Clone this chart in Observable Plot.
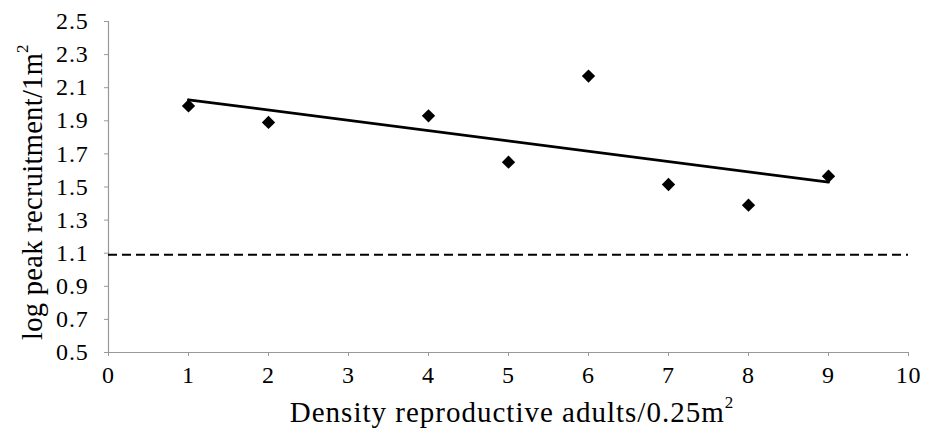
<!DOCTYPE html>
<html><head><meta charset="utf-8">
<script src="https://cdn.jsdelivr.net/npm/d3@7"></script>
<script src="https://cdn.jsdelivr.net/npm/@observablehq/plot@0.6"></script>
<style>
body{margin:0;background:#fff}
#chart{width:925px;height:441px}
</style>
</head><body><div id="chart"></div>
<script>
// Data
const density = [1, 2, 4, 5, 6, 7, 8, 9];
const logRecruit = [1.99, 1.89, 1.93, 1.65, 2.17, 1.515, 1.39, 1.565];
const thresholdY = [1.09];
const xTicks = [0, 1, 2, 3, 4, 5, 6, 7, 8, 9, 10];
const yTicks = [0.5, 0.7, 0.9, 1.1, 1.3, 1.5, 1.7, 1.9, 2.1, 2.3, 2.5];
const xTitle = "Density reproductive adults/0.25m";
const yTitle = "log peak recruitment/1m";
const superscript = "2";

const data = density.map((d, i) => ({x: d, y: logRecruit[i]}));

const svg = Plot.plot({
  width: 925,
  height: 441,
  marginLeft: 108,
  marginRight: 17,
  marginTop: 21,
  marginBottom: 89,
  style: {fontFamily: "'Liberation Serif', 'Times New Roman', serif", fontSize: "24px", color: "#000", background: "#fff", letterSpacing: "0.8px"},
  x: {domain: [0, 10], label: null},
  y: {domain: [0.5, 2.5], label: null},
  marks: [
    Plot.ruleX([0], {stroke: "#999", strokeWidth: 1.2}),
    Plot.ruleY([0.5], {stroke: "#999", strokeWidth: 1.2}),
    Plot.axisX({ticks: xTicks, tickSize: 4, tickPadding: 9, stroke: "#999", fill: "#000", tickFormat: d3.format("d"), label: null}),
    Plot.axisY({ticks: yTicks, tickSize: 4, tickPadding: 16, stroke: "#999", fill: "#000", tickFormat: d3.format(".1f"), label: null}),
    Plot.ruleY(thresholdY, {stroke: "#000", strokeWidth: 2, strokeDasharray: "9,5"}),
    Plot.linearRegressionY(data, {x: "x", y: "y", ci: 0, stroke: "#000", strokeWidth: 2.8}),
    Plot.dot(data, {x: "x", y: "y", symbol: "diamond2", r: 6, fill: "#000", stroke: "none"})
  ]
});

const s = d3.select(svg);
const xt = s.append("text")
  .attr("x", 512).attr("y", 422)
  .attr("text-anchor", "middle")
  .style("font-family", "'Liberation Serif', serif").style("font-size", "29px").style("letter-spacing", "1px").attr("fill", "#000");
xt.append("tspan").text(xTitle);
xt.append("tspan").attr("dy", -14).style("font-size", "17px").text(superscript);

const yt = s.append("text")
  .attr("transform", "translate(42,192) rotate(-90)")
  .attr("text-anchor", "middle")
  .style("font-family", "'Liberation Serif', serif").style("font-size", "28.5px").style("letter-spacing", "0.3px").attr("fill", "#000");
yt.append("tspan").text(yTitle);
yt.append("tspan").attr("dy", -14).style("font-size", "17px").text(superscript);

document.getElementById("chart").appendChild(svg);
</script>
</body></html>
